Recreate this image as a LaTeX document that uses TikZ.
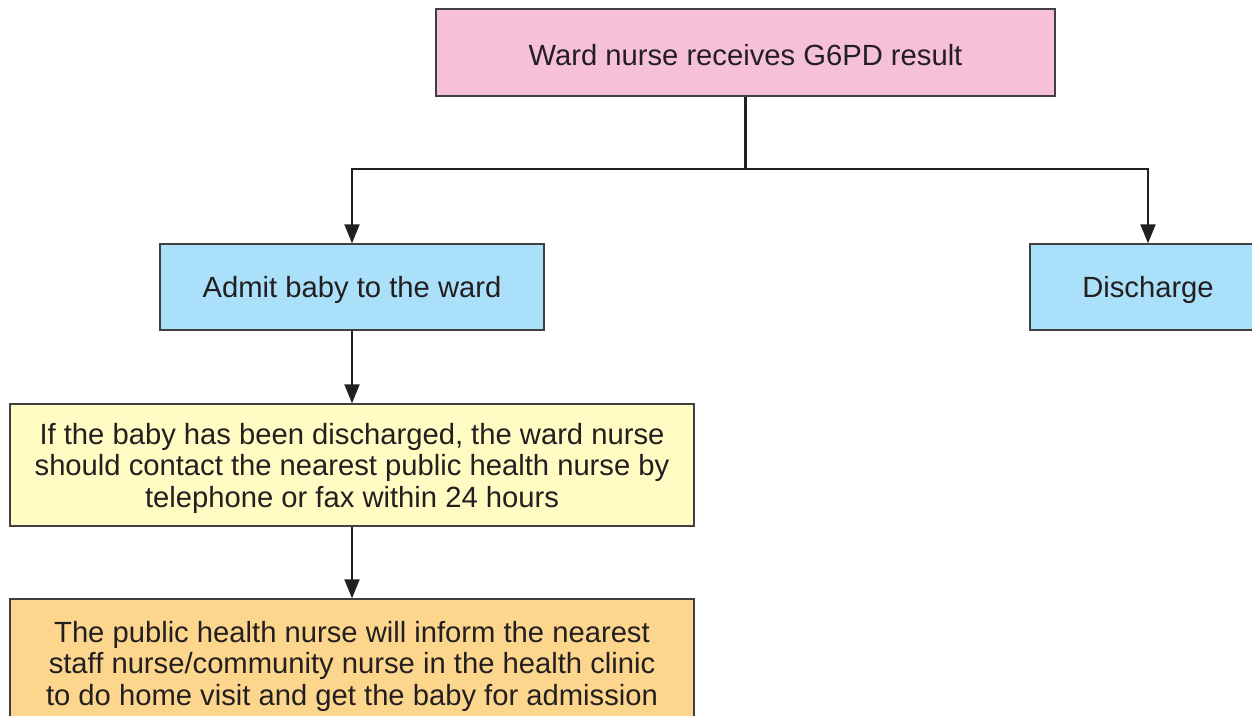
\documentclass[tikz,border=0pt]{standalone}
\usepackage{fontspec}
\setmainfont{Liberation Sans}
\usetikzlibrary{arrows.meta}
\definecolor{pinkfill}{HTML}{F7C0D9}
\definecolor{bluefill}{HTML}{AAE0F9}
\definecolor{yellowfill}{HTML}{FFFBC3}
\definecolor{orangefill}{HTML}{FDD68D}
\definecolor{edgegray}{HTML}{404040}
\definecolor{txt}{HTML}{231F20}
\tikzset{
  box/.style={draw=edgegray, line width=1.4pt, inner sep=0pt},
  lbl/.style={text=txt, align=center, inner sep=0pt, yshift=-3pt,
    font=\fontsize{29.2}{31.5}\selectfont},
  conn/.style={draw=txt, line width=2.1pt},
  arr/.style={conn, -{Triangle[width=15pt,length=19pt]}}
}
\begin{document}
\begin{tikzpicture}[x=1pt,y=-1pt]
\useasboundingbox (0,0) rectangle (1252,715);
\node[box, fill=pinkfill, minimum width=619pt, minimum height=87pt,
  label={[lbl]center:{Ward nurse receives G6PD result}}] (top) at (745.5,52.5) {};
\node[box, fill=bluefill, minimum width=384pt, minimum height=86pt,
  label={[lbl]center:{Admit baby to the ward}}] (admit) at (352,287) {};
\node[box, fill=bluefill, minimum width=236pt, minimum height=86pt,
  label={[lbl]center:{Discharge}}] (discharge) at (1148,287) {};
\node[box, fill=yellowfill, minimum width=684pt, minimum height=122pt,
  label={[lbl]center:{If the baby has been discharged, the ward nurse\\should contact the nearest public health nurse by\\telephone or fax within 24 hours}}] (contact) at (352,465) {};
\node[box, fill=orangefill, minimum width=684pt, minimum height=128pt,
  label={[lbl]center:{The public health nurse will inform the nearest\\staff nurse/community nurse in the health clinic\\to do home visit and get the baby for admission}}] (inform) at (352,663) {};
\coordinate (junction) at (top.south |- 0,169);
\draw[conn] (top.south) -- (junction);
\draw[arr] (junction) -| (admit.north);
\draw[arr] (junction) -| (discharge.north);
\draw[arr] (admit.south) -- (contact.north);
\draw[arr] (contact.south) -- (inform.north);
\end{tikzpicture}
\end{document}
